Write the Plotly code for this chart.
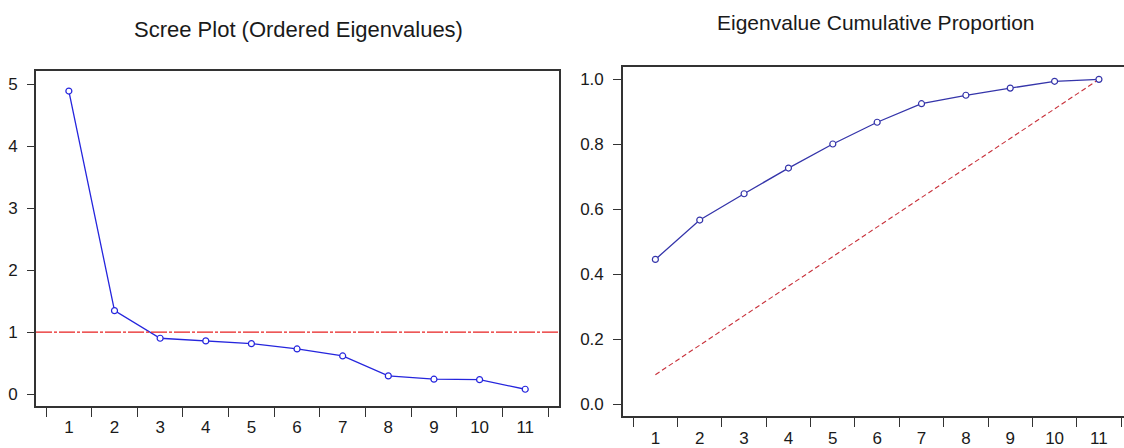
import plotly.graph_objects as go

# ---- data ----
components = ["1", "2", "3", "4", "5", "6", "7", "8", "9", "10", "11"]
eigenvalues = [4.887, 1.347, 0.902, 0.859, 0.815, 0.730, 0.617, 0.295, 0.242, 0.235, 0.080]
eigen_threshold = 1.0
cumulative_proportion = [0.446, 0.567, 0.648, 0.727, 0.801, 0.868, 0.925, 0.951, 0.973, 0.994, 1.000]
equal_share_line = [0.091, 0.182, 0.273, 0.364, 0.455, 0.545, 0.636, 0.727, 0.818, 0.909, 1.000]
left_yticks = [0, 1, 2, 3, 4, 5]
right_yticks = [0.0, 0.2, 0.4, 0.6, 0.8, 1.0]
right_yticktext = ["0.0", "0.2", "0.4", "0.6", "0.8", "1.0"]
title_left = "Scree Plot (Ordered Eigenvalues)"
title_right = "Eigenvalue Cumulative Proportion"

W, H = 1124, 448
FONT = "Liberation Sans, Arial, sans-serif"
AX = "#333333"
TXT = "#1a1a1a"

fig = go.Figure()

fig.add_trace(go.Scatter(
    x=components, y=eigenvalues, mode="lines+markers",
    line=dict(color="#2525DD", width=1.3),
    marker=dict(symbol="circle", size=6, color="white", line=dict(color="#2525DD", width=1.2)),
    xaxis="x", yaxis="y", showlegend=False, hoverinfo="skip"))

fig.add_trace(go.Scatter(
    x=components, y=equal_share_line, mode="lines",
    line=dict(color="#C8303A", width=1.1, dash="5px,3px"),
    xaxis="x2", yaxis="y2", showlegend=False, hoverinfo="skip"))

fig.add_trace(go.Scatter(
    x=components, y=cumulative_proportion, mode="lines+markers",
    line=dict(color="#3535AA", width=1.3),
    marker=dict(symbol="circle", size=6, color="white", line=dict(color="#3535AA", width=1.2)),
    xaxis="x2", yaxis="y2", showlegend=False, hoverinfo="skip"))

fig.add_shape(type="line", xref="x domain", yref="y", x0=0, x1=1,
              y0=eigen_threshold, y1=eigen_threshold,
              line=dict(color="#E82020", width=1.2, dash="16px,2px,3px,2px"))

common_x = dict(type="category", tickson="boundaries", ticks="outside", ticklen=9,
                tickwidth=1.3, tickcolor=AX, showline=True, linecolor=AX, linewidth=1.6,
                showgrid=False, zeroline=False, tickfont=dict(size=17, color=TXT, family=FONT))
common_y = dict(ticks="outside", tickwidth=1.3, tickcolor=AX, showline=True, linecolor=AX,
                linewidth=1.6, showgrid=False, zeroline=False,
                tickfont=dict(size=17, color=TXT, family=FONT))

fig.update_layout(
    width=W, height=H,
    margin=dict(l=0, r=0, t=0, b=0),
    paper_bgcolor="white", plot_bgcolor="white",
    font=dict(family=FONT, color=TXT),
    xaxis=dict(common_x, domain=[36 / W, 559 / W], range=[-0.72, 10.74], mirror=True,
               ticklabelstandoff=5, anchor="y"),
    yaxis=dict(common_y, domain=[(H - 406) / H, (H - 71) / H], range=[-0.19, 5.21],
               tickvals=left_yticks, ticklen=7, mirror=True, ticklabelstandoff=6, anchor="x"),
    xaxis2=dict(common_x, domain=[623 / W, 1.0], range=[-0.73, 10.565], mirror=True,
                ticklabelstandoff=6, anchor="y2"),
    yaxis2=dict(common_y, domain=[(H - 415.7) / H, (H - 67) / H], range=[-0.035, 1.038],
                tickvals=right_yticks, ticktext=right_yticktext, ticklen=8, mirror=False,
                ticklabelstandoff=6, anchor="x2"),
    annotations=[
        dict(text=title_left, xref="paper", yref="paper", x=298 / W, y=(H - 30) / H,
             xanchor="center", yanchor="middle", showarrow=False,
             font=dict(size=22, color=TXT, family=FONT)),
        dict(text=title_right, xref="paper", yref="paper", x=876 / W, y=(H - 22) / H,
             xanchor="center", yanchor="middle", showarrow=False,
             font=dict(size=21, color=TXT, family=FONT)),
    ],
)

fig.write_html("out.html", config={"displayModeBar": False},
               post_script="document.body.style.margin='0';document.body.style.overflow='hidden';")
